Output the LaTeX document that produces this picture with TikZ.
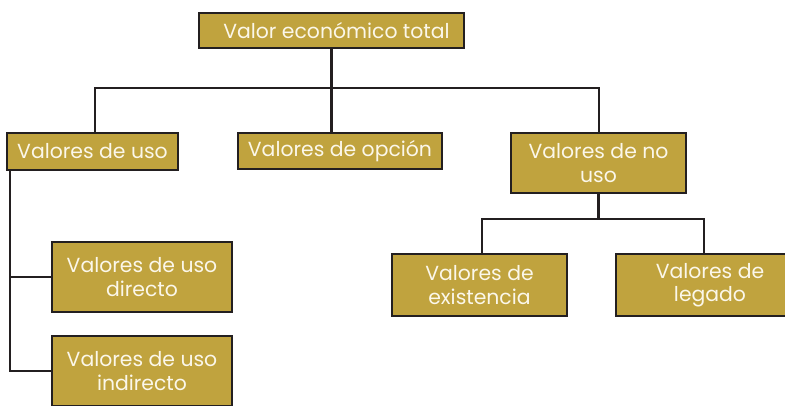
\documentclass[tikz,border=0pt]{standalone}
\usepackage{fontspec}
\setmainfont{Poppins}
\usepackage{tikz}
\definecolor{oro}{HTML}{C0A33E}
\definecolor{borde}{HTML}{231F20}
\definecolor{crema}{HTML}{FBF7EA}

\begin{document}
\begin{tikzpicture}[x=0.02cm,y=-0.02cm,
	caja/.style={draw=borde,fill=oro,line width=1.4pt,text=crema,align=center,inner sep=0pt,font=\fontsize{11.6}{13.2}\selectfont},
	linea/.style={draw=borde,line width=1.4pt}]
	%\draw[help lines] (0,0) grid[step=50] (785,406);
	\useasboundingbox (0,0) rectangle (785,406);
	\node[caja,minimum width=5.30cm,minimum height=0.70cm] (total) at (331.5,30.5) {\hspace{0.2cm}Valor económico total};
	\node[caja,minimum width=3.42cm,minimum height=0.74cm] (uso) at (92.5,151.5) {Valores de uso};
	\node[caja,minimum width=4.08cm,minimum height=0.72cm] (opcion) at (340,151) {Valores de opción};
	\node[caja,minimum width=3.50cm,minimum height=1.20cm] (nouso) at (598.5,163) {Valores de no\\uso};
	\node[caja,minimum width=3.60cm,minimum height=1.40cm] (directo) at (142,277) {Valores de uso\\directo};
	\node[caja,minimum width=3.60cm,minimum height=1.40cm] (indirecto) at (142,371) {Valores de uso\\indirecto};
	\node[caja,minimum width=3.50cm,minimum height=1.24cm] (existencia) at (479.5,285) {Valores de\\existencia};
	\node[caja,minimum width=3.76cm,minimum height=1.24cm] (legado) at (710,285) {Valores de\\legado};
	\coordinate (b1) at (95,88);
	\coordinate (b2) at (599,88);
	\coordinate (l) at (10,0);
	\coordinate (r1) at (482,219);
	\coordinate (r2) at (704,219);
	\draw[linea] (total.south) -- (opcion.north -| total.south);
	\draw[linea] (uso.north -| b1) -- (b1) -- (b2) -- (nouso.north -| b2);
	\draw[linea] (uso.south -| l) -- (indirecto.west -| l) -- (indirecto.west);
	\draw[linea] (directo.west -| l) -- (directo.west);
	\draw[linea] (nouso.south) -- (nouso.south |- r1);
	\draw[linea] (existencia.north -| r1) -- (r1) -- (r2) -- (legado.north -| r2);
\end{tikzpicture}
\end{document}
